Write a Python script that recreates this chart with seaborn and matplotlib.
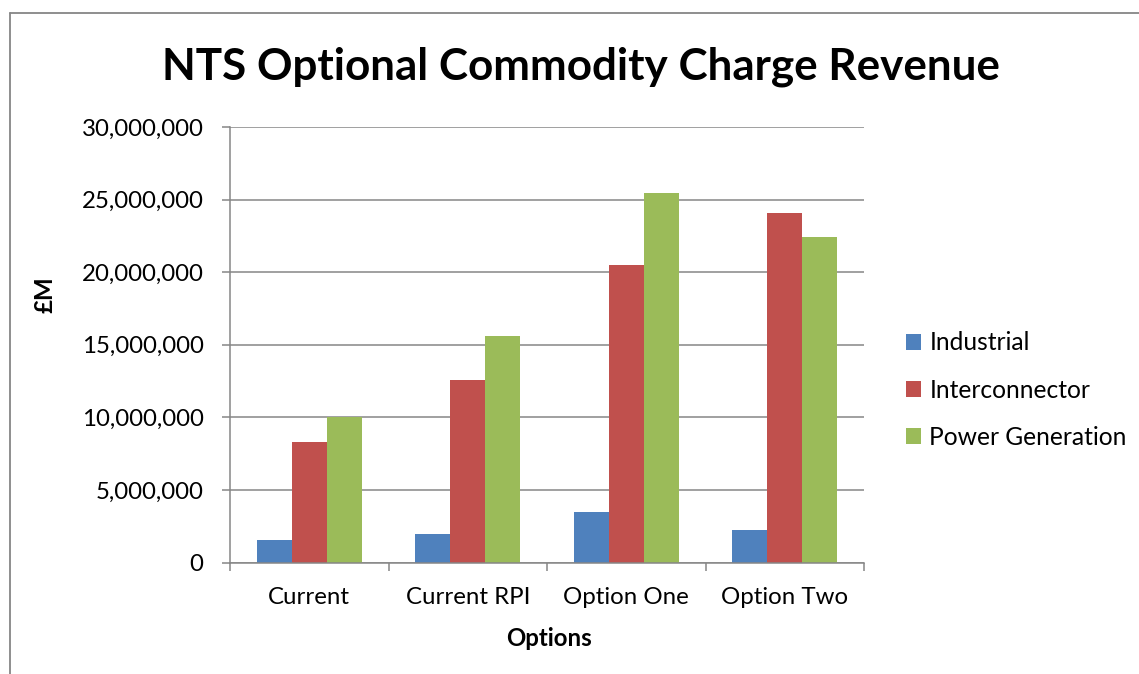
'''
Grouped bar chart of NTS optional commodity charge revenue by option.
'''

import matplotlib
matplotlib.use('agg')
import matplotlib.pyplot as plt
from matplotlib.lines import Line2D
from matplotlib.ticker import FuncFormatter, FixedLocator
import pandas as pd
import seaborn as sns

options = ['Current', 'Current RPI', 'Option One', 'Option Two']
industrial = [1550000, 1990000, 3510000, 2270000]
interconnector = [8330000, 12550000, 20490000, 24070000]
power_generation = [10040000, 15620000, 25440000, 22390000]
series = ['Industrial', 'Interconnector', 'Power Generation']
colours = ['#4F81BD', '#C0504D', '#9BBB59']
y_ticks = [0, 5000000, 10000000, 15000000, 20000000, 25000000, 30000000]

df = pd.DataFrame({
    'Options': options * 3,
    'Series': [s for s in series for _ in options],
    'Value': industrial + interconnector + power_generation,
})

sns.set_style('white')
plt.rcParams['font.family'] = ['Lato', 'DejaVu Sans']
plt.rcParams['text.color'] = 'black'

W, H = 1139, 674
GREY = '#868686'
FS = 17.3
fig = plt.figure(figsize=(W / 100, H / 100), dpi=100)
ax = fig.add_axes([230 / W, 1 - 562.5 / H, (864 - 230) / W, (562.5 - 127) / H])

sns.barplot(data=df, x='Options', y='Value', hue='Series', order=options,
            hue_order=series, palette=colours, saturation=1, width=0.66,
            errorbar=None, linewidth=0, ax=ax)

ax.set_xlim(-0.5, 3.5)
ax.set_ylim(0, 30000000)
ax.set_yticks(y_ticks)
ax.yaxis.set_major_formatter(FuncFormatter(lambda v, _: f'{int(v):,}'))
ax.yaxis.grid(True, color=GREY, lw=1.1)
ax.set_axisbelow(True)
for side in ['top', 'right']:
    ax.spines[side].set_visible(False)
for side in ['left', 'bottom']:
    ax.spines[side].set_color(GREY)
    ax.spines[side].set_linewidth(1.1)

ax.tick_params(axis='y', length=6, width=1.1, color=GREY, pad=13,
               labelsize=FS, labelcolor='black', left=True)
ax.tick_params(axis='x', which='major', length=0, pad=18, labelsize=FS,
               labelcolor='black')
ax.xaxis.set_minor_locator(FixedLocator([-0.5, 0.5, 1.5, 2.5, 3.5]))
ax.tick_params(axis='x', which='minor', length=6, width=1.1, color=GREY,
               bottom=True, direction='out')
ax.set_xlabel('')
ax.set_ylabel('')

handles, labels = ax.get_legend_handles_labels()
ax.legend_.remove()
fig.legend(handles, labels, loc='center left', bbox_to_anchor=(906 / W, 1 - 390 / H),
           frameon=False, fontsize=FS + 0.4, handlelength=0.6, handleheight=0.6,
           handletextpad=0.35, labelspacing=0.98, borderpad=0, borderaxespad=0)

fig.text(581 / W, 1 - 67 / H, 'NTS Optional Commodity Charge Revenue',
         fontsize=31.7, fontweight='bold', ha='center', va='center')
fig.text(45 / W, 1 - 295 / H, '£M', rotation=90, fontsize=FS,
         fontweight='bold', ha='center', va='center')
fig.text(549 / W, 1 - 638 / H, 'Options', fontsize=FS,
         fontweight='bold', ha='center', va='center')

# outer chart border (left and top edges only are inside the picture)
fig.add_artist(Line2D([10 / W, 10 / W], [0, 1 - 13 / H], color=GREY, lw=1.3))
fig.add_artist(Line2D([10 / W, 1], [1 - 13 / H, 1 - 13 / H], color=GREY, lw=1.3))

fig.savefig('out.png', dpi=100)
